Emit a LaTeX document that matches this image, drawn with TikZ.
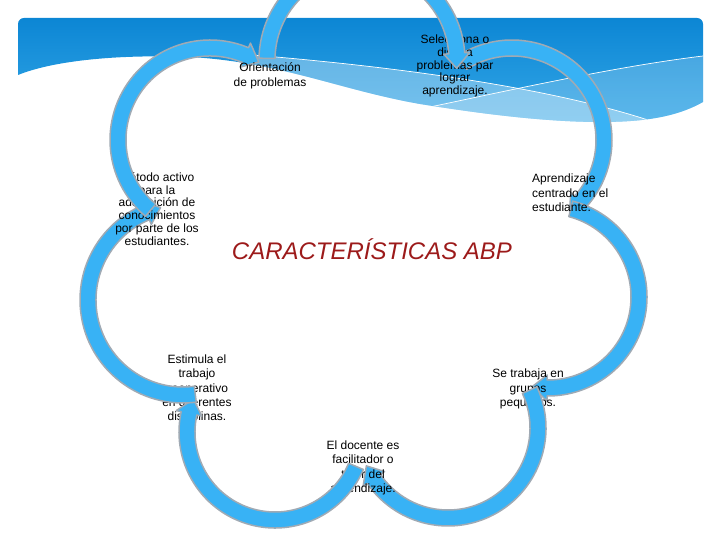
\documentclass[tikz,border=0pt]{standalone}
\usepackage{fontspec}
\setmainfont{Liberation Sans}
\usetikzlibrary{calc}

\definecolor{arrowblue}{RGB}{56,178,245}
\definecolor{arrowrim}{RGB}{160,170,180}
\definecolor{bandtop}{RGB}{12,134,212}
\definecolor{bandbottom}{RGB}{58,172,234}
\definecolor{titlered}{RGB}{156,26,26}

\tikzset{%
  feature/.style={font=\fontsize{12}{14.4}\selectfont, align=center, inner sep=0pt},% one characteristic
  squeezed/.style={feature, font=\fontsize{12}{12.8}\selectfont},% long texts, lines packed
  heading/.style={font=\fontsize{24}{28}\selectfont\itshape, text=titlered, inner sep=0pt},% centre title
  flowarrow/.style={draw=arrowrim, line width=1.5pt, fill=arrowblue, line join=round},% curved cycle arrows
  swoosh/.style={draw=white, line width=0.7pt}% thin lines of the header band
}
\newcommand*{\halfw}{8}
\newcommand*{\wing}{5}
\newcommand*{\headlen}{15}
% #1 centre, #2 radius, #3 start angle, #4 end angle (clockwise)
\newcommand*{\cyclearrow}[4]{
  \pgfmathsetmacro{\arcout}{#2+\halfw}
  \pgfmathsetmacro{\arcin}{#2-\halfw}
  \pgfmathsetmacro{\wingout}{#2+\halfw+\wing}
  \pgfmathsetmacro{\wingin}{#2-\halfw-\wing}
  \pgfmathsetmacro{\headat}{#4+\headlen/#2*180/pi}
  \draw[flowarrow] ($(#1)+(#3:\arcout)$) arc[start angle=#3, end angle=\headat, radius=\arcout]
    -- ($(#1)+(\headat:\wingout)$) -- ($(#1)+(#4:#2)$) -- ($(#1)+(\headat:\wingin)$)
    -- ($(#1)+(\headat:\arcin)$) arc[start angle=\headat, end angle=#3, radius=\arcin] -- cycle;
}

\begin{document}
\begin{tikzpicture}[x=1pt, y=1pt]
  \useasboundingbox (0,0) rectangle (720,540);
  \clip (0,0) rectangle (720,540);
  % Header band of the slide:
  \begin{scope}
    \clip (18,465) [rounded corners=6pt] -- (18,522) -- (703,522) [sharp corners] -- (703,438)
      .. controls (675,422) and (640,418) .. (600,418)
      .. controls (540,418) and (470,428) .. (420,436)
      .. controls (340,450) and (280,478) .. (190,483)
      .. controls (110,486) and (50,478) .. (18,465) -- cycle;
    \shade[top color=bandtop, bottom color=bandbottom] (18,400) rectangle (703,522);
    \fill[white, opacity=.33] (240,486) .. controls (380,475) and (540,455) .. (648,420)
      -- (648,380) -- (240,380) -- cycle;
    \fill[white, opacity=.2] (430,433) .. controls (520,452) and (620,474) .. (703,484)
      -- (703,380) -- (430,380) -- cycle;
    \draw[swoosh] (240,486) .. controls (380,475) and (540,455) .. (648,420);
    \draw[swoosh] (430,433) .. controls (520,452) and (620,474) .. (703,484);
  \end{scope}
  % Centres of the seven arcs:
  \coordinate (c1) at (362,480);
  \coordinate (c2) at (512,400);
  \coordinate (c3) at (548,243);
  \coordinate (c4) at (448,112);
  \coordinate (c5) at (275,108);
  \coordinate (c6) at (183,240);
  \coordinate (c7) at (210,400);
  % Arrows and characteristics, in the order they overlap:
  \node[feature] (stimulate) at (197,151) {Estimula el\\trabajo\\cooperativo\\en diferentes\\disciplinas.};
  \cyclearrow{c2}{92}{122.7}{-51.3}
  \cyclearrow{c3}{91}{75.5}{-100}
  \node[feature, align=left, anchor=west] (student) at (532,347) {Aprendizaje\\centrado en el\\estudiante.};
  \node[feature] (groups) at (528,151) {Se trabaja en\\grupos\\pequeños.};
  \cyclearrow{c4}{90}{24.9}{-155.1}
  \node[feature] (teacher) at (363,72) {El docente es\\facilitador o\\tutor del\\aprendizaje.};
  \cyclearrow{c5}{88}{-23}{-202}
  \cyclearrow{c6}{95}{-82.6}{-256.3}
  \node[squeezed] (method) at (157,331) {Método activo\\para la\\adquisición de\\conocimientos\\por parte de los\\estudiantes.};
  \cyclearrow{c7}{92}{229.8}{58}
  \node[feature] (orient) at (270,464) {Orientación\\de problemas};
  \node[squeezed] (select) at (455,474) {Selecciona o\\diseña\\problemas par\\lograr\\aprendizaje.};
  \cyclearrow{c1}{95}{179}{-5}
  % Title in the middle:
  \node[heading] (title) at (372,291) {CARACTERÍSTICAS ABP};
\end{tikzpicture}
\end{document}
